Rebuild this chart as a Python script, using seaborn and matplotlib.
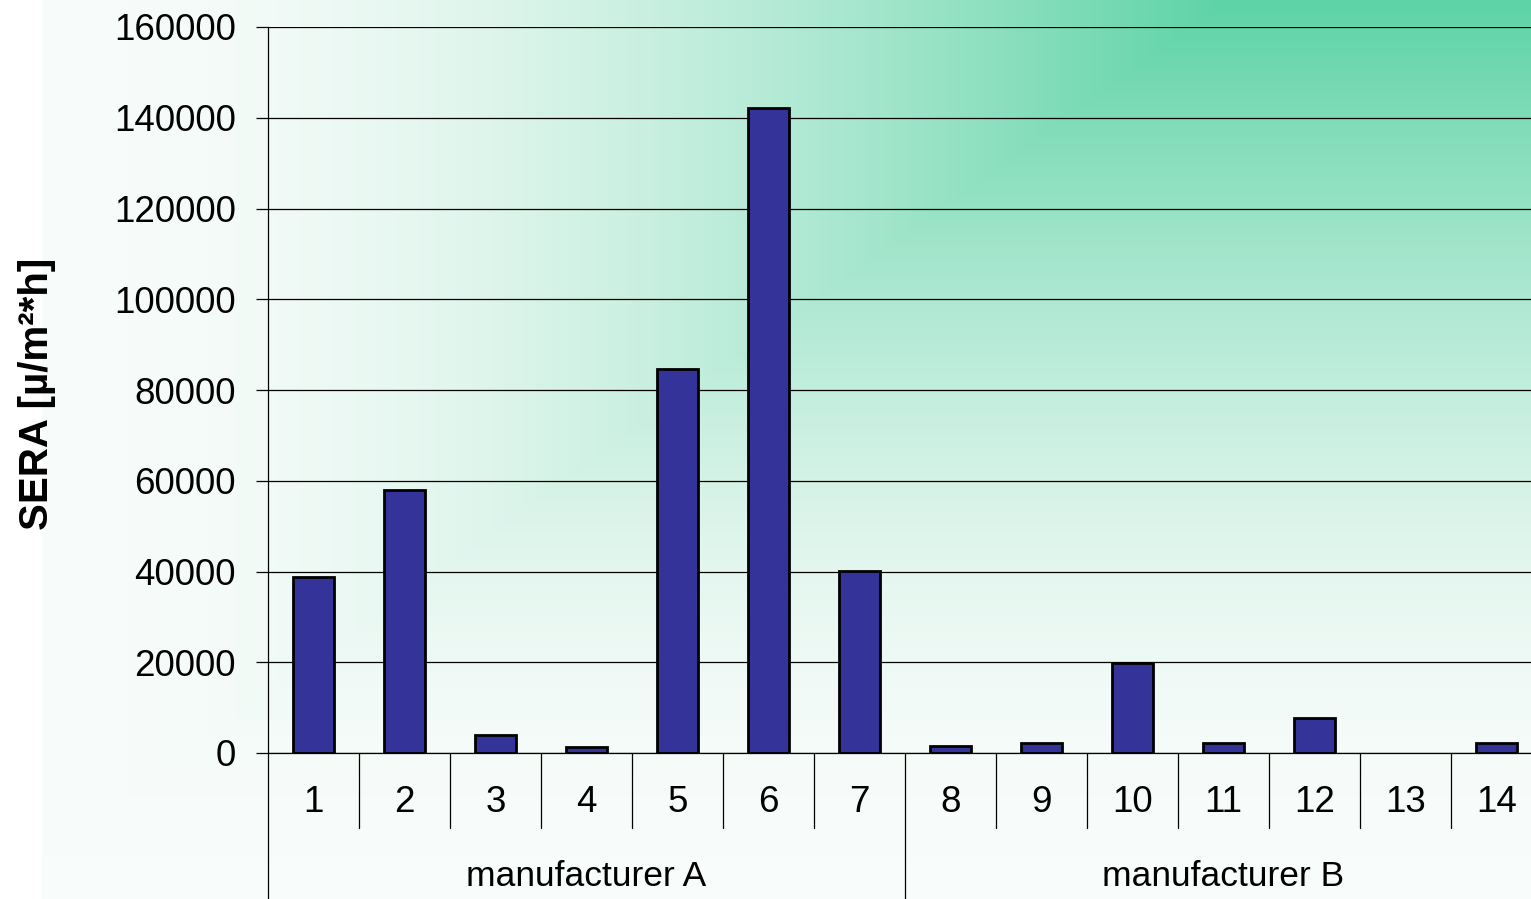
import numpy as np
import pandas as pd
import matplotlib
matplotlib.use("Agg")
import matplotlib.pyplot as plt
import matplotlib.transforms as mtransforms
from matplotlib.lines import Line2D
import seaborn as sns

# Samples and measured SERA values
samples = ["1", "2", "3", "4", "5", "6", "7", "8", "9", "10", "11", "12", "13", "14"]
sera = [38800, 58000, 4000, 1300, 84600, 142100, 40100, 1500, 2200, 19900, 2200, 7650, 0, 2200]
groups = ["manufacturer A"] * 7 + ["manufacturer B"] * 7
group_names = ["manufacturer A", "manufacturer B"]
y_ticks = [0, 20000, 40000, 60000, 80000, 100000, 120000, 140000, 160000]

df = pd.DataFrame({"sample": samples, "sera": sera, "group": groups})

sns.set_theme(style="white")
plt.rcParams["font.family"] = ["Liberation Sans", "DejaVu Sans"]

W, H, DPI = 1531, 899, 100
fig = plt.figure(figsize=(W / DPI, H / DPI), dpi=DPI)
fig.patch.set_facecolor("white")

# Corner gradient background (green in the upper right fading to white)
xx, yy = np.meshgrid(np.arange(W), np.arange(H))
x_corner, x_left, y_span = 1228.0, 42.0, 857.0
tx = np.clip((x_corner - xx) / (x_corner - x_left), 0, 1)
ty = np.clip(yy / y_span, 0, 1)
t = np.maximum(tx, ty)
f = np.sin(t * np.pi / 2)[..., None]
green = np.array([93, 211, 167]) / 255.0
pale = np.array([248, 252, 250]) / 255.0
img = green + f * (pale - green)
img[:, : int(x_left)] = 1.0
bg = fig.add_axes([0, 0, 1, 1], zorder=-5)
bg.imshow(img, aspect="auto", interpolation="bilinear")
bg.axis("off")

# Plot area
left, right, top, bottom = 268, 1531, 27, 753
ax = fig.add_axes([left / W, 1 - bottom / H, (right - left) / W, (bottom - top) / H])
ax.set_facecolor("none")

sns.barplot(data=df, x="sample", y="sera", color="#333399", edgecolor="black",
            linewidth=2.0, width=0.46, saturation=1, ax=ax, zorder=3)
# empty samples get no outline
for patch in ax.patches:
    if patch.get_height() == 0:
        patch.set_linewidth(0)

ax.set_ylim(0, 160000)
ax.set_xlim(-0.5, -0.5 + (right - left) / 91.0)
ax.set_yticks(y_ticks)
ax.set_yticklabels([str(v) for v in y_ticks], fontsize=26.5)
ax.yaxis.grid(True, color="black", linewidth=0.9)
ax.set_axisbelow(True)

ax.tick_params(axis="y", which="both", left=True, length=9, width=0.9, color="black",
               pad=14, labelcolor="black", direction="out")
ax.tick_params(axis="x", length=0, pad=23, labelsize=26.5, labelcolor="black")
ax.set_xlabel("")

for side in ["top", "right"]:
    ax.spines[side].set_visible(False)
ax.spines["left"].set_color("black")
ax.spines["left"].set_linewidth(0.9)
ax.spines["bottom"].set_color("black")
ax.spines["bottom"].set_linewidth(0.9)

# Category separators and group dividers below the axis
h_ax = bottom - top
trans = mtransforms.blended_transform_factory(ax.transData, ax.transAxes)
short = -75 / h_ax
long_ = -(H - bottom + 2) / h_ax
for i in range(len(samples)):
    b = i + 0.5
    y_end = long_ if b == 6.5 else short
    ax.add_line(Line2D([b, b], [0, y_end], transform=trans, color="black",
                       linewidth=0.9, clip_on=False))
ax.add_line(Line2D([-0.5, -0.5], [0, long_], transform=trans, color="black",
                   linewidth=0.9, clip_on=False))

# Group labels
for name, cx in zip(group_names, [3, 10]):
    ax.text(cx, -(876 - bottom) / h_ax, name, transform=trans, ha="center", va="center",
            fontsize=25.5, color="black")

ax.set_ylabel("SERA [µ/m²*h]", fontsize=29, fontweight="bold", color="black")
ax.yaxis.label.set_va("center")
ax.yaxis.set_label_coords((37 - left) / (right - left), (bottom - 394) / h_ax)

fig.savefig("out.png", dpi=DPI)
